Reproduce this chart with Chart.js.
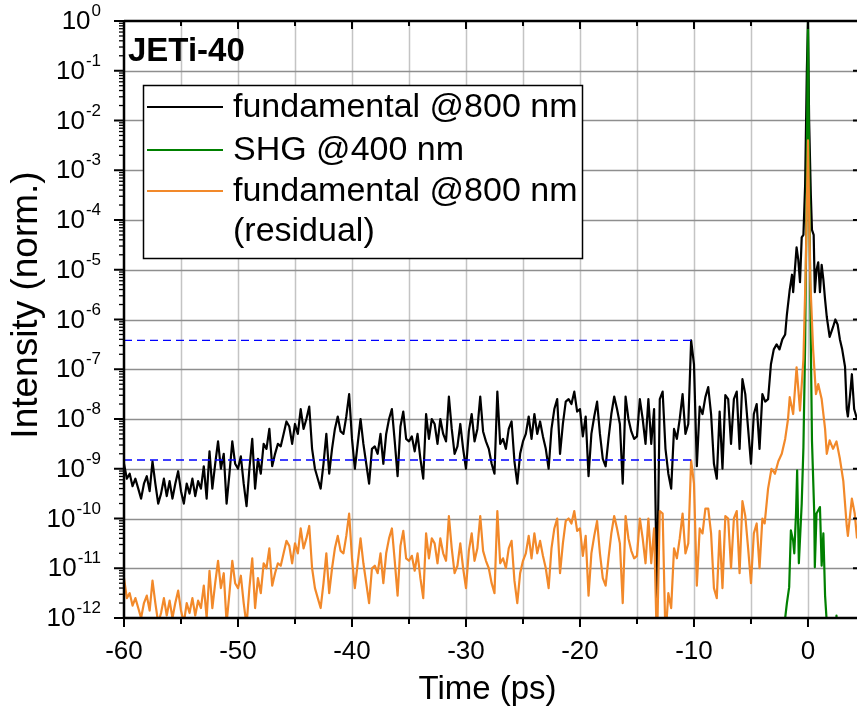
<!DOCTYPE html>
<html>
<head>
<meta charset="utf-8">
<script src="https://cdn.jsdelivr.net/npm/chart.js@4.4.1/dist/chart.umd.min.js"></script>
<style>
  body { margin: 0; background: #fff; }
  canvas { display: block; }
</style>
</head>
<body>
<canvas id="myChart" width="857" height="713"></canvas>
<script>
// values are log10 of the normalised intensity
// background region: one sample every 0.25 ps starting at -60 ps
const noiseStart = -60
const noiseStep = 0.25

const fundNoise = [
  -8.9, -9.2, -9.1, -9.35,  -9.2, -9.4, -9.6, -9.3,  -9.15, -9.45, -8.85, -9.3,
  -9.7, -9.5, -9.2, -9.55,  -9.25, -9.6, -9.3, -9.05,  -9.45, -9.7, -9.3, -9.5,
  -9.2, -9.55, -9.25, -9.4,  -8.95, -9.6, -8.65, -9.4,  -8.9, -8.45, -9.0, -8.7,
  -9.7, -9.1, -8.45, -8.9,  -9.0, -8.75, -9.3, -9.75,  -9.0, -8.4, -9.4, -8.8,
  -9.1, -8.5, -8.6, -8.2,  -8.95, -8.7, -8.5, -8.55,  -8.3, -8.05, -8.15, -8.5,
  -8.1, -8.3, -7.8, -8.2,  -8.0, -7.75, -8.6, -9.0,  -9.2, -9.4, -8.9, -8.3,
  -9.1, -8.6, -8.2, -7.95,  -8.25, -8.3, -7.95, -7.5,  -8.4, -9.0, -8.5, -8.0,
  -8.5, -8.9, -9.3, -8.6,  -8.55, -8.7, -8.3, -8.9,  -8.3, -8.0, -7.8, -8.45,
  -9.15, -8.15, -7.85, -8.4,  -8.45, -8.35, -8.65, -8.3,  -8.8, -9.2, -7.9, -8.4,
  -8.0, -8.1, -8.5, -8.0,  -8.3, -8.45, -7.55, -8.2,  -8.7, -8.55, -8.1, -8.6,
  -9.0, -8.25, -7.9, -8.45,  -8.2, -7.55, -8.25, -8.45,  -8.6, -8.9, -9.1, -7.45,
  -8.5, -8.4, -8.6, -8.2,  -8.05, -8.85, -9.3, -8.7,  -8.45, -8.3, -7.95, -8.4,
  -7.9, -8.3, -8.05, -8.35,  -8.6, -9.0, -8.2, -7.8,  -7.6, -8.7, -8.1, -7.65,
  -7.6, -7.7, -7.45, -7.85,  -7.8, -8.35, -7.95, -9.15,  -8.3, -7.95, -7.65, -8.3,
  -8.8, -8.95, -8.4, -7.9,  -7.55, -7.8, -8.1, -9.3,  -7.55, -8.0, -8.25, -8.4,
  -8.35, -7.6, -8.0, -8.5,  -7.6, -8.5, -7.8, -11.6,  -7.6, -7.45, -8.6, -9.1,
  -9.4, -8.2, -8.4, -8.0,  -7.5, -8.3, -8.1, -6.42,  -6.9, -8.95, -7.75, -7.9,
  -7.56, -7.36, -7.9, -8.9,  -9.2, -7.85, -9.0, -7.52,  -7.6, -8.5, -7.6, -7.45,
  -8.6, -7.2, -7.5, -8.2,  -8.9, -7.9, -7.7, -8.6
]

const resNoise = [
  -11.2, -11.6, -11.5, -11.75,  -11.6, -11.8, -12.0, -11.7,  -11.55, -11.85, -11.25, -11.7,
  -12.1, -11.9, -11.6, -11.95,  -11.65, -12.0, -11.7, -11.45,  -11.85, -12.1, -11.7, -11.9,
  -11.6, -11.95, -11.65, -11.8,  -11.35, -12.0, -11.05, -11.8,  -11.3, -10.85, -11.4, -11.1,
  -12.1, -11.5, -10.85, -11.3,  -11.4, -11.15, -11.7, -12.15,  -11.4, -10.8, -11.8, -11.2,
  -11.5, -10.9, -11.0, -10.6,  -11.35, -11.1, -10.9, -10.95,  -10.7, -10.45, -10.55, -10.9,
  -10.5, -10.7, -10.2, -10.6,  -10.4, -10.15, -11.0, -11.4,  -11.6, -11.8, -11.3, -10.7,
  -11.5, -11.0, -10.6, -10.35,  -10.65, -10.7, -10.35, -9.9,  -10.8, -11.4, -10.9, -10.4,
  -10.9, -11.3, -11.7, -11.0,  -10.95, -11.1, -10.7, -11.3,  -10.7, -10.4, -10.2, -10.85,
  -11.55, -10.55, -10.25, -10.8,  -10.85, -10.75, -11.05, -10.7,  -11.2, -11.6, -10.3, -10.8,
  -10.4, -10.5, -10.9, -10.4,  -10.7, -10.85, -9.95, -10.6,  -11.1, -10.95, -10.5, -11.0,
  -11.4, -10.65, -10.3, -10.85,  -10.6, -9.95, -10.65, -10.85,  -11.0, -11.3, -11.5, -9.85,
  -10.9, -10.8, -11.0, -10.6,  -10.45, -11.25, -11.7, -11.1,  -10.85, -10.7, -10.35, -10.8,
  -10.3, -10.7, -10.45, -10.75,  -11.0, -11.4, -10.6, -10.2,  -10.0, -11.1, -10.5, -10.05,
  -10.0, -10.1, -9.85, -10.25,  -10.2, -10.75, -10.35, -11.55,  -10.7, -10.35, -10.05, -10.7,
  -11.2, -11.35, -10.8, -10.3,  -9.95, -10.2, -10.5, -11.7,  -9.95, -10.4, -10.65, -10.8,
  -10.75, -10.0, -10.4, -10.9,  -10.0, -10.9, -10.2, -12.6,  -9.85, -9.9, -12.4, -11.5,
  -11.8, -10.6, -10.8, -10.4,  -9.9, -10.7, -10.5, -8.83,  -9.3, -11.35, -10.2, -10.3,
  -9.8, -9.8, -10.3, -11.4,  -11.6, -10.25, -11.4, -9.95,  -10.0, -11.0, -10.0, -9.85,
  -11.1, -9.65, -9.95, -10.6,  -11.3, -10.3, -10.1, -11.0
]

// main pulse region, irregular sampling
const fundPeakTime = [-4.0, -3.75, -3.5, -3.25, -3.0, -2.75, -2.5, -2.25, -2.0, -1.85, -1.6, -1.4, -1.3, -1.0,
  -0.85, -0.7, -0.55, -0.4, -0.25, -0.1, 0, 0.1, 0.25, 0.35, 0.5, 0.6, 0.75, 0.9, 1.05, 1.2, 1.35, 1.5, 1.65,
  1.9, 2.2, 2.4, 2.6, 2.8, 3.0, 3.25, 3.4, 3.5, 3.7, 3.85, 4.05, 4.3]
const fundPeak = [-7.5, -7.65, -7.6, -6.9, -6.6, -6.5, -6.6, -6.4, -6.3, -5.9, -5.4, -5.1, -5.45, -4.55,
  -4.8, -5.25, -4.35, -4.3, -3.3, -1.0, 0, -2.0, -3.5, -4.2, -4.3, -5.45, -5.0, -4.85, -5.45, -4.9, -5.2, -5.6, -5.95,
  -6.35, -6.15, -6.0, -6.1, -6.4, -6.6, -6.95, -7.8, -7.95, -7.5, -7.1, -7.8, -8.0]

const resPeakTime = [-4.0, -3.8, -3.5, -3.2, -2.9, -2.6, -2.3, -2.0, -1.75, -1.6, -1.3, -1.0, -0.7, -0.4, -0.2,
  0, 0.2, 0.45, 0.7, 0.9, 1.2, 1.5, 1.65, 1.9, 2.2, 2.5, 2.8, 3.1, 3.4, 3.5, 3.85, 4.1, 4.3]
const resPeak = [-10.0, -10.1, -9.4, -9.0, -9.1, -8.85, -8.7, -8.4, -8.0, -7.56, -7.9, -6.96, -7.83, -6.8, -5.0,
  -2.4, -5.2, -6.6, -7.5, -7.3, -7.6, -8.2, -8.7, -8.43, -8.6, -8.45, -8.8, -9.25, -10.15, -10.35, -9.6, -9.9, -10.4]

const shgTime = [-2.3, -2.0, -1.85, -1.65, -1.5, -1.3, -1.2, -1.05, -0.95, -0.8, -0.55, -0.4, -0.25, -0.12, 0,
  0.12, 0.25, 0.35, 0.55, 0.6, 0.75, 1.05, 1.2, 1.35, 1.5, 1.65, 1.9, 2.3, 2.5, 2.7]
const shgPeak = [-13.0, -12.0, -11.7, -11.38, -10.24, -10.45, -10.7, -9.9, -9.03, -10.9, -9.7, -8.57, -6.5, -3.5, 0,
  -3.5, -6.5, -8.43, -9.9, -10.98, -9.9, -9.77, -10.95, -10.3, -11.55, -12.1, -13.0, -13.0, -11.95, -13.0]

// blue dashed guide levels, drawn from -60 ps up to the pre-pulse
const guideLevels = [3.8e-7, 1.5e-9]
const guideEnd = -10.2

const xTicks = [-60, -50, -40, -30, -20, -10, 0]
const yExponents = [0, -1, -2, -3, -4, -5, -6, -7, -8, -9, -10, -11, -12]

const seriesNames = ['fundamental @800 nm', 'SHG @400 nm', 'fundamental @800 nm', '(residual)']
const seriesColors = ['#000000', '#008000', '#f2892a']

function noisePoints(arr) {
  return arr.map((v, i) => ({ x: noiseStart + i * noiseStep, y: Math.pow(10, v) }))
}
function peakPoints(times, arr) {
  return times.map((t, i) => ({ x: t, y: Math.pow(10, arr[i]) }))
}

const FONT = "'Liberation Sans', Arial, sans-serif"

const frame = {
  id: 'frame',
  beforeDatasetsDraw(chart) {
    const { ctx, chartArea: a, scales: { x, y } } = chart
    ctx.save()
    // vertical grid every 5 ps
    ctx.strokeStyle = '#c4c4c4'
    ctx.lineWidth = 1.5
    for (let t = -55; t <= 0; t += 5) {
      const px = Math.round(x.getPixelForValue(t)) + 0.5
      ctx.beginPath(); ctx.moveTo(px, a.top); ctx.lineTo(px, a.bottom); ctx.stroke()
    }
    // horizontal grid every decade
    ctx.strokeStyle = '#8e8e8e'
    ctx.lineWidth = 1.3
    for (let e = -11; e <= -1; e++) {
      const py = Math.round(y.getPixelForValue(Math.pow(10, e))) + 0.5
      ctx.beginPath(); ctx.moveTo(a.left, py); ctx.lineTo(a.right, py); ctx.stroke()
    }
    ctx.restore()
  },
  afterDatasetsDraw(chart) {
    const { ctx, chartArea: a, scales: { x, y } } = chart
    ctx.save()
    ctx.strokeStyle = '#000'
    ctx.fillStyle = '#000'

    // axis lines
    ctx.lineWidth = 2.5
    ctx.beginPath()
    ctx.moveTo(a.left, a.top); ctx.lineTo(a.right, a.top)
    ctx.moveTo(a.left, a.top - 1); ctx.lineTo(a.left, a.bottom + 1)
    ctx.moveTo(a.left - 1, a.bottom); ctx.lineTo(a.right, a.bottom)
    ctx.stroke()

    // x ticks (bottom outward, top inward)
    ctx.lineWidth = 2
    for (let t = -60; t <= 0; t += 5) {
      const px = x.getPixelForValue(t)
      const major = t % 10 === 0
      ctx.beginPath()
      ctx.moveTo(px, a.bottom); ctx.lineTo(px, a.bottom + (major ? 9 : 6))
      ctx.moveTo(px, a.top); ctx.lineTo(px, a.top + (major ? 8 : 5))
      ctx.stroke()
    }
    // y ticks: left outward with minor ticks, right inward
    for (let e = -12; e <= 0; e++) {
      const py = y.getPixelForValue(Math.pow(10, e))
      ctx.lineWidth = 2
      ctx.beginPath()
      ctx.moveTo(a.left, py); ctx.lineTo(a.left - 10, py)
      ctx.moveTo(a.right, py); ctx.lineTo(a.right - 4, py)
      ctx.stroke()
      if (e < 0) {
        ctx.lineWidth = 1.3
        for (let m = 2; m <= 9; m++) {
          const pm = y.getPixelForValue(m * Math.pow(10, e))
          ctx.beginPath(); ctx.moveTo(a.left, pm); ctx.lineTo(a.left - 5, pm); ctx.stroke()
        }
      }
    }

    // tick labels
    ctx.font = '26px ' + FONT
    ctx.textAlign = 'center'
    ctx.textBaseline = 'middle'
    xTicks.forEach(t => ctx.fillText(String(t), x.getPixelForValue(t), 652))

    yExponents.forEach(e => {
      const py = y.getPixelForValue(Math.pow(10, e))
      const right = 101
      ctx.font = '17px ' + FONT
      ctx.textAlign = 'right'
      ctx.textBaseline = 'alphabetic'
      const sup = String(e)
      const supW = ctx.measureText(sup).width
      ctx.fillText(sup, right, py - 5)
      ctx.font = '26px ' + FONT
      ctx.textBaseline = 'middle'
      ctx.fillText('10', right - supW - 1, py + 1)
    })

    // axis titles
    ctx.font = '33px ' + FONT
    ctx.textAlign = 'center'
    ctx.textBaseline = 'middle'
    ctx.fillText('Time (ps)', (a.left + a.right) / 2 - 3, 690)
    ctx.save()
    ctx.translate(27, 305)
    ctx.rotate(-Math.PI / 2)
    ctx.font = '37px ' + FONT
    ctx.fillText('Intensity (norm.)', 0, 0)
    ctx.restore()

    // corner label
    ctx.font = 'bold 33px ' + FONT
    ctx.textAlign = 'left'
    ctx.textBaseline = 'alphabetic'
    ctx.fillText('JETi-40', 128, 61)

    // legend box
    ctx.fillStyle = '#fff'
    ctx.fillRect(143, 85, 439, 173)
    ctx.lineWidth = 1.5
    ctx.strokeStyle = '#000'
    ctx.strokeRect(143.5, 85.5, 439, 173)
    const rows = [107, 150, 191]
    ctx.lineWidth = 2
    seriesColors.forEach((c, i) => {
      ctx.strokeStyle = c
      ctx.beginPath(); ctx.moveTo(147, rows[i]); ctx.lineTo(223, rows[i]); ctx.stroke()
    })
    ctx.fillStyle = '#000'
    ctx.font = '34px ' + FONT
    ctx.textBaseline = 'middle'
    const textRows = [108, 151, 192, 232]
    seriesNames.forEach((s, i) => ctx.fillText(s, 233, textRows[i]))

    ctx.restore()
  }
}

const ctx = document.getElementById('myChart').getContext('2d')
const myChart = new Chart(ctx, {
  type: 'line',
  data: {
    datasets: [
      ...guideLevels.map(v => ({
        label: 'guide',
        data: [{ x: -60, y: v }, { x: guideEnd, y: v }],
        borderColor: '#0000ff',
        borderWidth: 1.4,
        borderDash: [8, 5],
        order: 0
      })),
      {
        label: seriesNames[2],
        data: noisePoints(resNoise).concat(peakPoints(resPeakTime, resPeak)),
        borderColor: seriesColors[2],
        borderWidth: 2.2,
        order: 1
      },
      {
        label: seriesNames[1],
        data: peakPoints(shgTime, shgPeak),
        borderColor: seriesColors[1],
        borderWidth: 2.2,
        order: 2
      },
      {
        label: seriesNames[0],
        data: noisePoints(fundNoise).concat(peakPoints(fundPeakTime, fundPeak)),
        borderColor: seriesColors[0],
        borderWidth: 2.2,
        order: 3
      }
    ]
  },
  options: {
    responsive: false,
    animation: false,
    devicePixelRatio: 1,
    elements: {
      point: { radius: 0 },
      line: { tension: 0, fill: false, borderJoinStyle: 'round' }
    },
    layout: { padding: { left: 124, top: 21, right: 0, bottom: 95 } },
    scales: {
      x: { type: 'linear', display: false, min: -60, max: 4.3 },
      y: { type: 'logarithmic', display: false, min: 1e-12, max: 1 }
    },
    plugins: {
      legend: { display: false },
      tooltip: { enabled: false }
    }
  },
  plugins: [frame]
})
</script>
</body>
</html>
